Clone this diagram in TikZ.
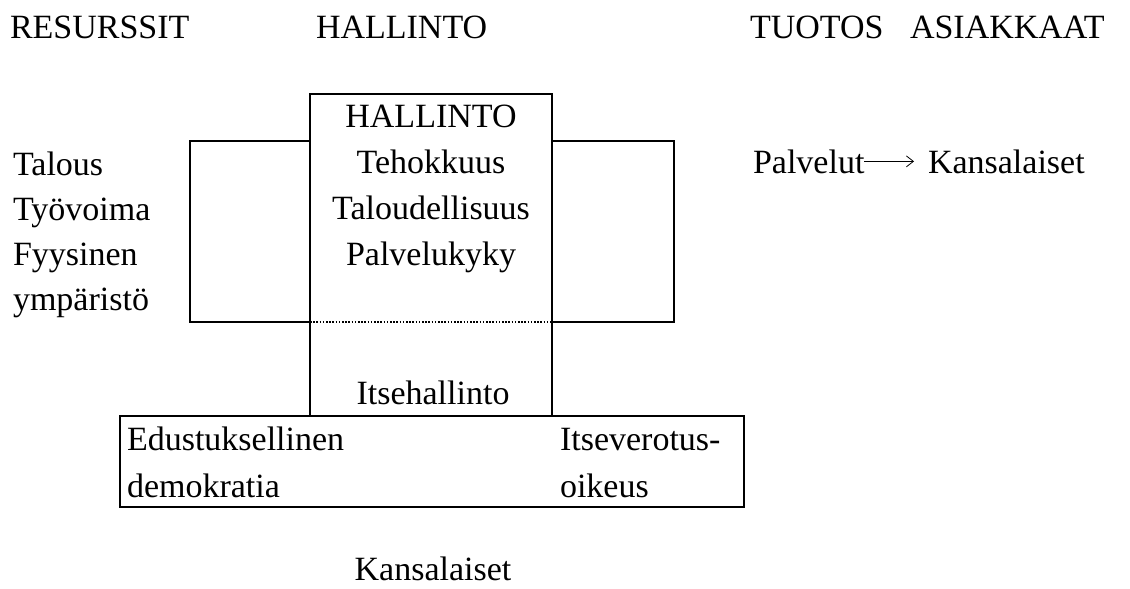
\documentclass[tikz,border=0pt]{standalone}
\usepackage{fontspec}
\setmainfont{Liberation Serif}
\usetikzlibrary{arrows.meta}
\begin{document}
\begin{tikzpicture}[x=1pt,y=-1pt,
  lbl/.style={inner sep=0pt, outer sep=0pt, font=\fontsize{34}{45}\selectfont},
  panel/.style={draw, line width=2.2pt, inner sep=0pt, outer sep=0pt, anchor=north west},
  seam/.style={line width=1.6pt, dash pattern=on 1.6pt off 1.6pt},
  flow/.style={line width=0.8pt, -{Straight Barb[length=7pt,width=11pt,line width=0.8pt]}},
]
\useasboundingbox (0,0) rectangle (1130,589);

% column headings
\node[lbl, anchor=base west] (hres) at (10,38) {RESURSSIT};
\node[lbl, anchor=base west] (hadm) at (316,38) {HALLINTO};
\node[lbl, anchor=base west] (hout) at (750,38) {TUOTOS};
\node[lbl, anchor=base west] (hcus) at (910,38) {ASIAKKAAT};

% frames: wings, central column, self-government base
\node[panel, minimum width=120, minimum height=181] (lwing) at (190,141) {};
\node[panel, minimum width=122, minimum height=181] (rwing) at (552,141) {};
\node[panel, minimum width=242, minimum height=322] (core) at (310,94) {};
\node[panel, minimum width=624, minimum height=91] (base) at (120,416) {};
\draw[seam] (lwing.south east) -- (rwing.south west);

% texts (multi-line nodes are placed by the baseline of their last line)
\node[lbl, align=left, anchor=base west] (res) at (13,310)
  {Talous\\Työvoima\\Fyysinen\\ympäristö};
\node[lbl, font=\fontsize{34}{46}\selectfont, align=center, anchor=base] (adm) at (431,265)
  {HALLINTO\\Tehokkuus\\Taloudellisuus\\Palvelukyky};
\node[lbl, anchor=base] (self) at (433,404) {Itsehallinto};
\node[lbl, font=\fontsize{34}{47}\selectfont, align=left, anchor=base west] (demo) at (127,497)
  {Edustuksellinen\\demokratia};
\node[lbl, font=\fontsize{34}{47}\selectfont, align=left, anchor=base west] (tax) at (560,497)
  {Itseverotus-\\oikeus};
\node[lbl, anchor=base] (cit) at (433,580) {Kansalaiset};

% output to customers
\node[lbl, anchor=base west] (serv) at (753,173) {Palvelut};
\node[lbl, anchor=base west] (cust) at (928,173) {Kansalaiset};
\draw[flow, shorten >=14pt] (serv.east) -- (serv.east -| cust.west);
\end{tikzpicture}
\end{document}
